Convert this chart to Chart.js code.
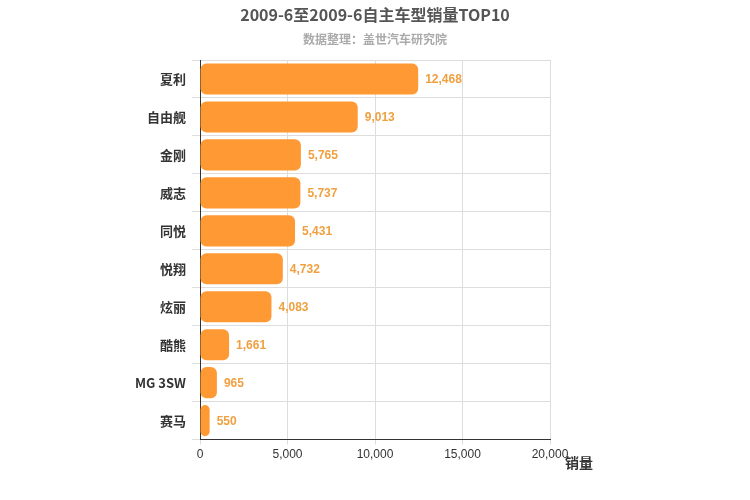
<!DOCTYPE html>
<html><head><meta charset="utf-8">
<script src="https://cdn.jsdelivr.net/npm/chart.js@4"></script>
<style>body{margin:0;background:#fff}#w{width:750px;height:500px}</style>
</head><body><div id="w"><canvas id="c"></canvas></div>
<script>
const categories=["夏利","自由舰","金刚","威志","同悦","悦翔","炫丽","酷熊","MG 3SW","赛马"];
const sales=[12468,9013,5765,5737,5431,4732,4083,1661,965,550];
const xTicks=[0,5000,10000,15000,20000];
const fmt=v=>v.toLocaleString('en-US');
const labelPlugin={id:'lbl',afterDatasetsDraw(ch){
  const ctx=ch.ctx,meta=ch.getDatasetMeta(0);
  ctx.save();ctx.font='bold 12px Arial, "Liberation Sans"';ctx.fillStyle='#F0A040';ctx.textBaseline='middle';
  meta.data.forEach((b,i)=>ctx.fillText(fmt(sales[i]),b.x+7,b.y+1));
  const xs=ch.scales.x;ctx.fillStyle='#333';ctx.font='bold 14px "Noto Sans CJK SC"';
  ctx.fillText('销量',xs.right+15,xs.bottom-2);
  ctx.textAlign='center';ctx.fillStyle='#555';ctx.font='bold 16px "Noto Sans CJK SC"';
  ctx.fillText('2009-6至2009-6自主车型销量TOP10',375,15);
  ctx.fillStyle='#aaa';ctx.font='bold 12px "Noto Sans CJK SC"';
  ctx.fillText('数据整理：盖世汽车研究院',375,39);
  ctx.restore();}};
new Chart(document.getElementById('c'),{type:'bar',
 data:{labels:categories,datasets:[{data:sales,backgroundColor:'#FF9933',borderRadius:6,borderSkipped:false,categoryPercentage:0.82,barPercentage:1}]},
 options:{indexAxis:'y',responsive:true,maintainAspectRatio:false,animation:false,
  layout:{padding:{left:0,right:200,top:60,bottom:35}},
  plugins:{legend:{display:false},tooltip:{enabled:false}},
  scales:{
   x:{min:0,max:20000,afterBuildTicks(a){a.ticks=xTicks.map(v=>({value:v}));},
      ticks:{color:'#333',font:{size:12},callback:v=>fmt(v)},grid:{color:'#ddd',drawTicks:true,tickLength:5},border:{color:'#333'}},
   y:{afterFit(s){s.width=200;},ticks:{color:'#333',font:{size:13,weight:'bold',family:'"Noto Sans CJK SC"'},padding:6},grid:{color:'#ddd',offset:true},border:{color:'#333'}}}},
 plugins:[labelPlugin]});
</script></body></html>
